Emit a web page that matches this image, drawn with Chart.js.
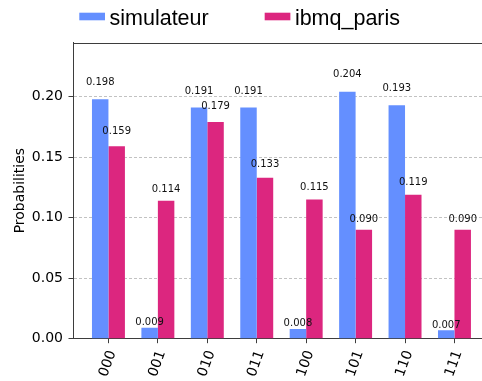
<!DOCTYPE html>
<html>
<head>
<meta charset="utf-8">
<script src="https://cdn.jsdelivr.net/npm/chart.js@4/dist/chart.umd.min.js"></script>
<style>
  html, body { margin: 0; padding: 0; background: #fff; overflow: hidden; }
  canvas { display: block; }
</style>
</head>
<body>
<canvas id="c" width="482" height="381"></canvas>
<script>
// Measured basis states and their probabilities
const states = ['000', '001', '010', '011', '100', '101', '110', '111'];
const simulateur = [0.198, 0.009, 0.191, 0.191, 0.008, 0.204, 0.193, 0.007];
const ibmqParis = [0.159, 0.114, 0.179, 0.133, 0.115, 0.090, 0.119, 0.090];
const yTicks = [0.00, 0.05, 0.10, 0.15, 0.20];
const seriesNames = ['simulateur', 'ibmq_paris'];
const seriesColors = ['#648fff', '#dc267f'];

// y range leaves 20% headroom above the tallest bar
const yMax = 1.2 * Math.max(...simulateur, ...ibmqParis);
const toPoints = arr => arr.map((v, i) => ({ x: i, y: v }));

const TICK_FONT = { family: 'DejaVu Sans', size: 14 };
const SPINE = '#3d3d3d';

// Value printed just above each bar (at 1.05 x its height)
const valueLabels = {
  id: 'valueLabels',
  afterDatasetsDraw(chart) {
    const { ctx } = chart;
    const yScale = chart.scales.y;
    ctx.save();
    ctx.font = '10px "DejaVu Sans"';
    ctx.fillStyle = '#111';
    ctx.textAlign = 'center';
    ctx.textBaseline = 'alphabetic';
    chart.data.datasets.forEach((ds, di) => {
      chart.getDatasetMeta(di).data.forEach((bar, i) => {
        const v = ds.data[i].y;
        ctx.fillText(v.toFixed(3), bar.x, yScale.getPixelForValue(1.05 * v) - 2.3);
      });
    });
    ctx.restore();
  }
};

// Top spine of the axes box
const topSpine = {
  id: 'topSpine',
  afterDraw(chart) {
    const { ctx, chartArea: a } = chart;
    ctx.save();
    ctx.strokeStyle = SPINE;
    ctx.lineWidth = 1;
    ctx.beginPath();
    const y = Math.round(a.top) + 0.5;
    ctx.moveTo(a.left, y);
    ctx.lineTo(a.right, y);
    ctx.stroke();
    ctx.restore();
  }
};

// Two-column legend above the axes
const topLegend = {
  id: 'topLegend',
  afterDraw(chart) {
    const { ctx } = chart;
    const boxW = 25.7, boxH = 7.6, boxY = 12.7, gap = 4.5, colGap = 56, baseline = 24.5;
    let x = 79.3;
    ctx.save();
    ctx.font = '21.5px "Liberation Sans", Arial, sans-serif';
    ctx.textBaseline = 'alphabetic';
    ctx.textAlign = 'left';
    chart.data.datasets.forEach(ds => {
      ctx.fillStyle = ds.backgroundColor;
      ctx.fillRect(x, boxY, boxW, boxH);
      ctx.fillStyle = '#000';
      const tx = x + boxW + gap;
      ctx.fillText(ds.label, tx, baseline);
      x = tx + ctx.measureText(ds.label).width + colGap;
    });
    ctx.restore();
  }
};

new Chart(document.getElementById('c'), {
  type: 'bar',
  data: {
    datasets: [
      { label: seriesNames[0], data: toPoints(simulateur), backgroundColor: seriesColors[0] },
      { label: seriesNames[1], data: toPoints(ibmqParis), backgroundColor: seriesColors[1] }
    ]
  },
  options: {
    responsive: false,
    animation: false,
    devicePixelRatio: 1,
    layout: { padding: { top: 42.5, left: 0, right: 0, bottom: 0 } },
    datasets: { bar: { categoryPercentage: 2 / 3, barPercentage: 1, borderWidth: 0 } },
    plugins: { legend: { display: false }, tooltip: { enabled: false } },
    scales: {
      x: {
        type: 'linear',
        offset: false,
        min: -0.717,
        max: 7.557,
        afterBuildTicks: s => { s.ticks = states.map((_, i) => ({ value: i })); },
        afterFit: s => { s.height = 42.3; },
        ticks: {
          callback: v => states[v],
          autoSkip: false,
          minRotation: 70,
          maxRotation: 70,
          padding: 5,
          labelOffset: 4,
          font: TICK_FONT,
          color: '#000'
        },
        grid: { offset: false, drawOnChartArea: false, drawTicks: true, tickLength: 4.5, tickColor: SPINE, tickWidth: 1 },
        border: { color: SPINE, width: 1 }
      },
      y: {
        min: 0,
        max: yMax,
        afterBuildTicks: s => { s.ticks = yTicks.map(v => ({ value: v })); },
        afterFit: s => { s.width = 73; },
        ticks: {
          callback: v => v.toFixed(2),
          padding: 5.5,
          font: TICK_FONT,
          color: '#000'
        },
        grid: { color: '#c2c2c2', lineWidth: 1, drawTicks: true, tickLength: 4.5, tickColor: SPINE, tickWidth: 1, tickBorderDash: [] },
        border: { color: SPINE, width: 1, dash: [3, 2] },
        title: {
          display: true,
          text: 'Probabilities',
          font: TICK_FONT,
          color: '#000',
          padding: { top: 12, bottom: 0 }
        }
      }
    }
  },
  plugins: [valueLabels, topSpine, topLegend]
});
</script>
</body>
</html>
